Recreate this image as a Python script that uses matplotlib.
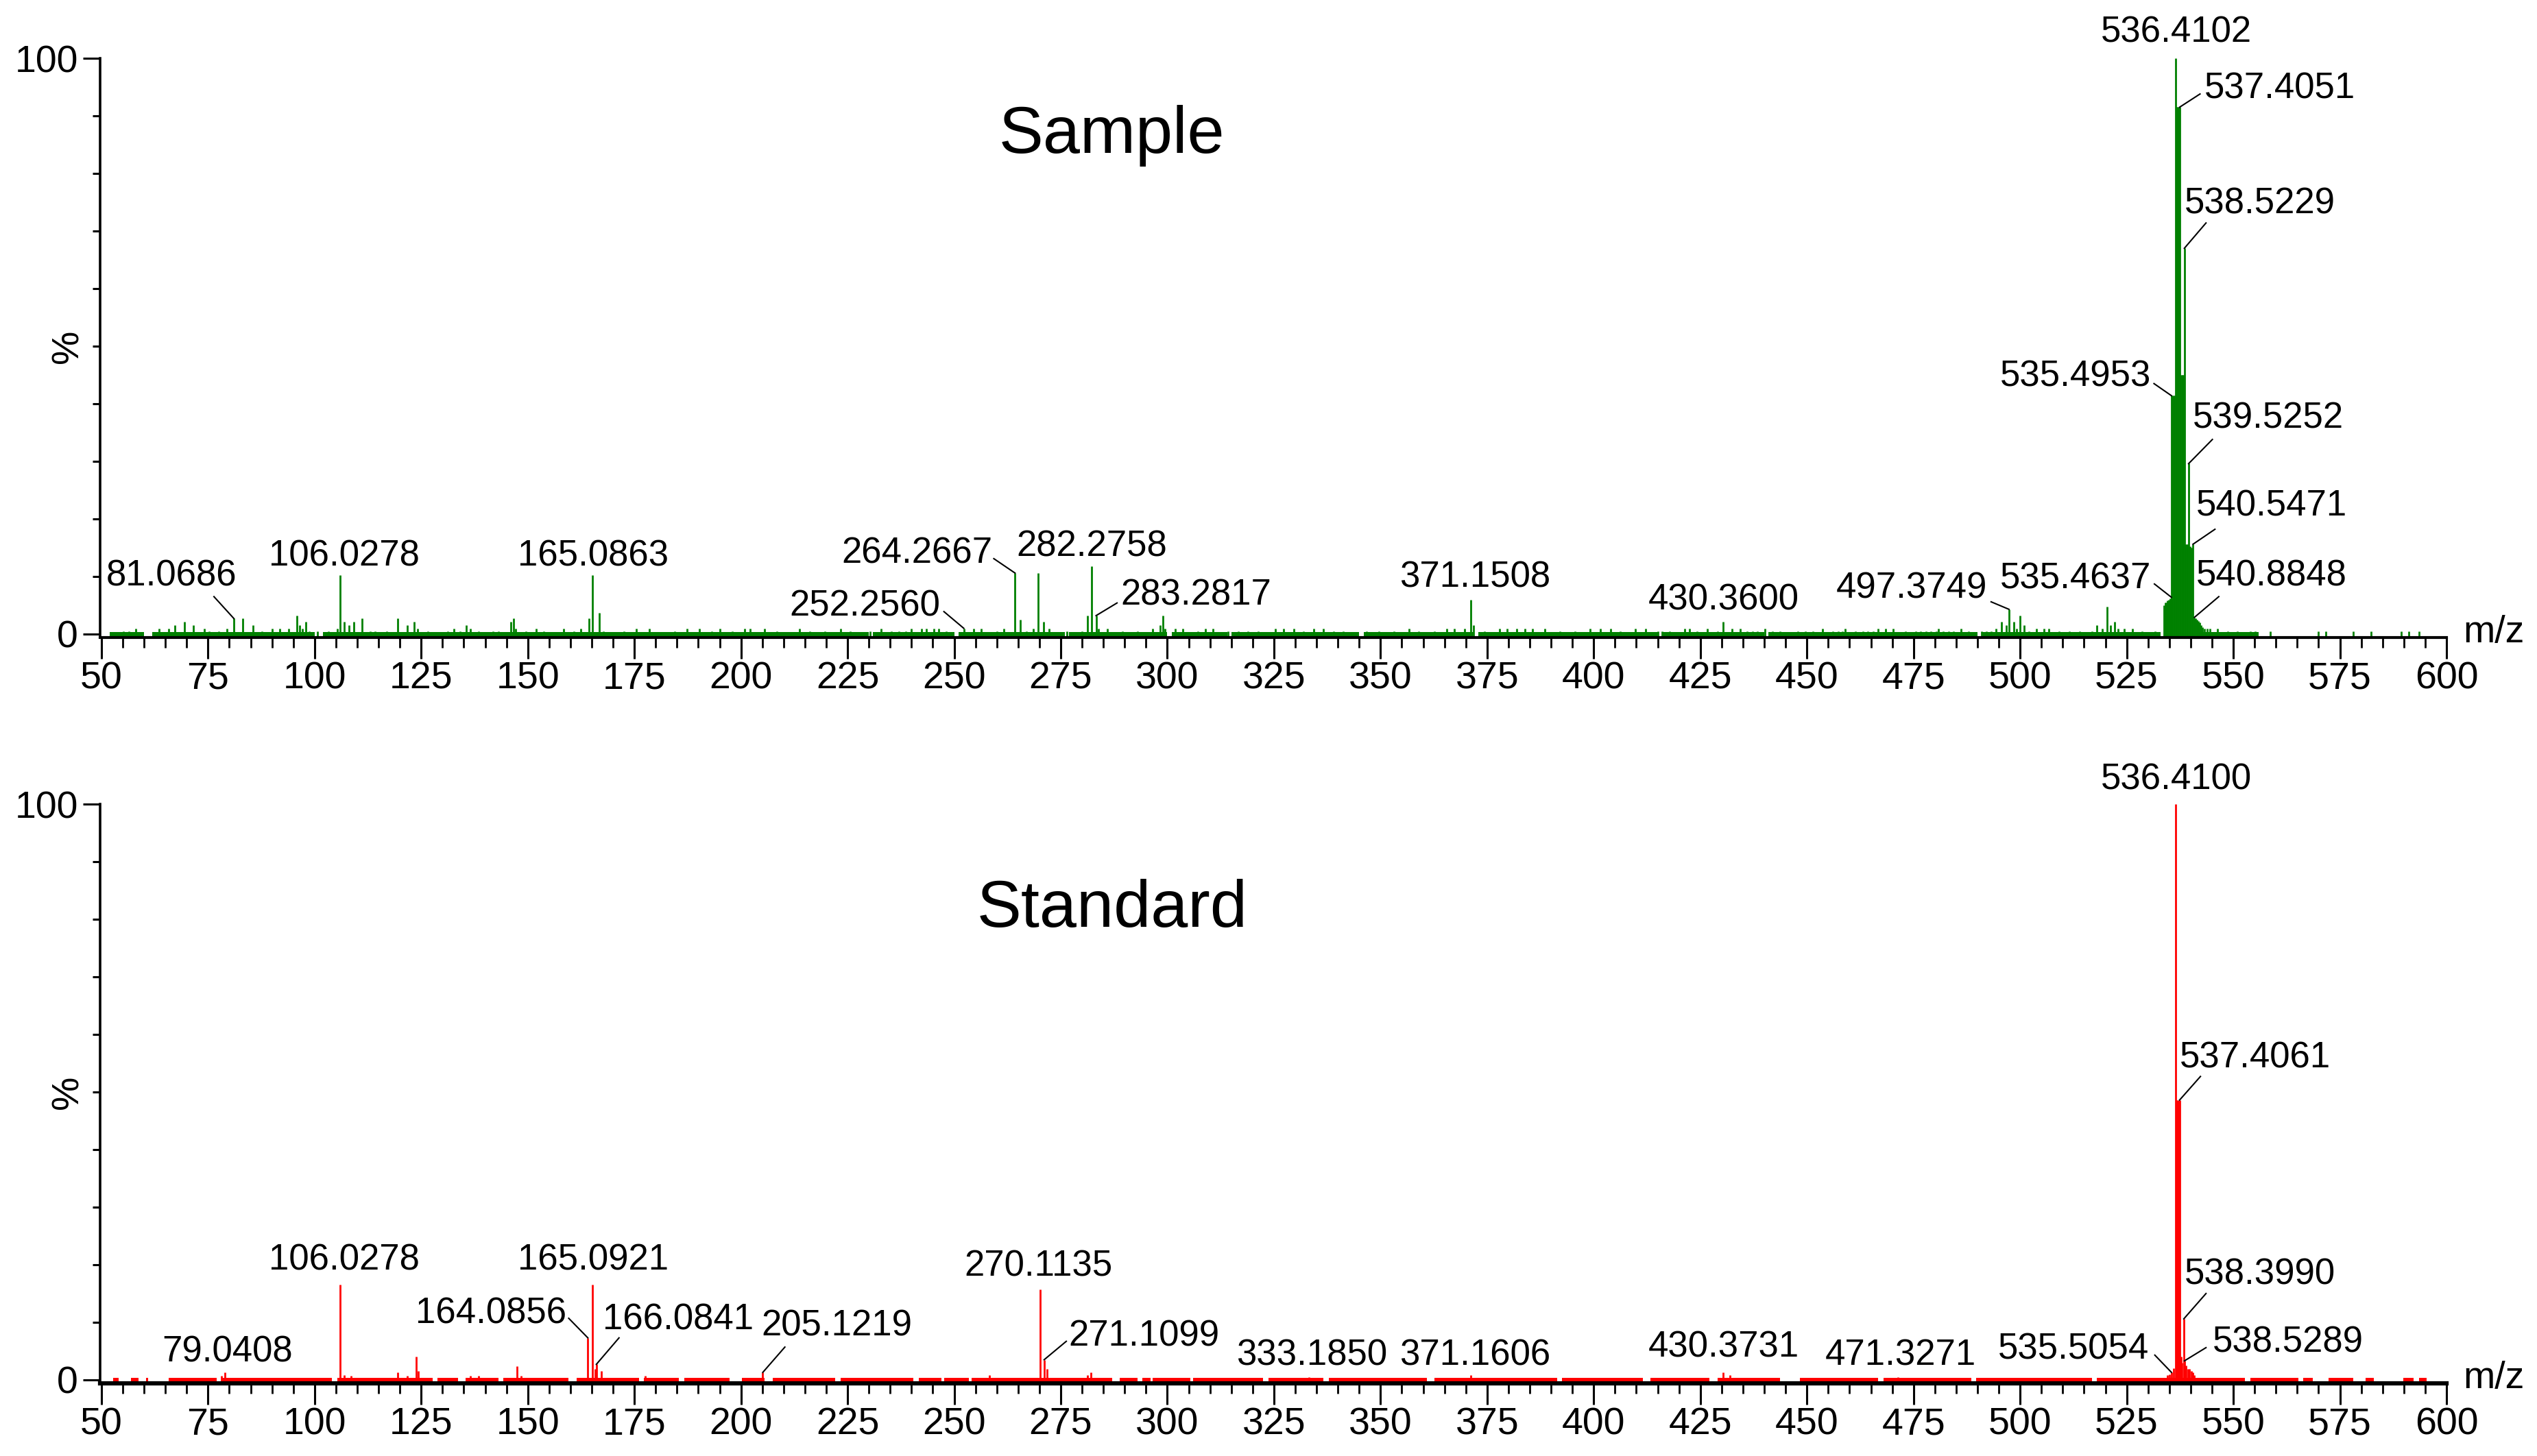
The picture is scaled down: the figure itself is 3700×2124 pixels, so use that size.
import matplotlib.pyplot as plt
from matplotlib.ticker import MultipleLocator
from matplotlib.transforms import blended_transform_factory

plt.rcParams['font.family'] = ['Liberation Sans', 'DejaVu Sans']

# ---- Sample spectrum (top, green) ----
sample_mz = [55.2, 56.5, 58.1, 63.5, 65.8, 67.2, 69.4, 71.5, 74.1, 75.2, 77.6, 79.4,
             81.0686, 83.2, 85.6, 87.6, 90.0, 91.8, 93.9, 95.9, 96.5, 97.1, 98.0, 98.8,
             100.6, 103.2, 105.3, 106.0278, 106.9, 108.0, 109.2, 111.2, 113.0, 114.2,
             116.9, 119.5, 121.8, 123.3, 124.2, 126.6, 131.3, 132.7, 134.2, 135.6, 136.6,
             138.4, 141.9, 143.1, 146.0, 146.6, 147.2, 149.6, 151.9, 153.7, 158.4, 160.8,
             162.5, 164.3, 165.0863, 166.7, 167.8, 172.6, 175.5, 178.5, 184.4, 187.3,
             190.3, 193.2, 195.0, 198.0, 200.9, 202.1, 205.6, 208.5, 213.8, 216.2, 219.7,
             223.3, 225.6, 230.3, 232.8, 235.2, 237.0, 238.7, 239.9, 242.3, 243.4, 245.2,
             246.4, 248.2, 252.2560, 254.6, 256.4, 260.0, 261.7, 264.2667, 265.5, 267.0,
             268.6, 269.7, 270.9, 272.3, 276.5, 280.0, 281.2, 282.2758, 283.2817, 283.9,
             285.9, 289.4, 293.0, 296.5, 298.3, 298.9, 299.5, 301.8, 303.6, 307.1, 308.9,
             310.7, 314.2, 316.6, 318.9, 321.3, 325.4, 327.2, 329.6, 331.9, 334.3, 336.6,
             339.0, 341.3, 346.7, 349.6, 353.1, 356.7, 359.0, 362.6, 365.5, 367.3, 369.7,
             371.1508, 371.8, 374.4, 377.9, 379.7, 382.0, 383.8, 385.6, 388.5, 392.1,
             395.6, 399.1, 401.5, 403.9, 406.2, 409.8, 412.1, 415.1, 416.0, 417.8, 421.3,
             422.5, 424.2, 426.6, 429.0, 430.3600, 432.5, 434.3, 436.0, 437.2, 438.4,
             440.2, 441.9, 443.7, 447.8, 449.6, 451.4, 453.7, 456.1, 457.3, 458.4, 459.0,
             461.4, 463.2, 464.3, 465.5, 466.7, 468.5, 470.2, 473.2, 475.5, 476.7, 477.9,
             479.1, 480.3, 480.9, 482.0, 483.2, 484.4, 486.2, 487.9, 490.9, 492.1, 493.2,
             494.4, 495.6, 496.8, 497.3749, 498.5, 499.1, 499.96, 500.9, 502.1, 503.9,
             505.6, 506.8, 509.2, 511.5, 513.9, 516.8, 518.0, 519.2, 520.4, 521.2, 522.1,
             523.0, 524.5, 526.3, 528.6, 531.6,
             533.7, 534.0, 534.3, 534.6, 534.9, 535.15, 535.4637, 535.4953, 535.75, 536.0,
             536.2, 536.4102, 536.6, 536.85, 537.1, 537.4051, 537.6, 537.85, 538.1, 538.3,
             538.5229, 538.75, 539.0, 539.25, 539.5252, 539.8, 540.05, 540.3, 540.5471,
             540.8848, 541.2, 541.5, 541.8, 542.1, 542.4, 542.8, 543.3, 543.9,
             544.5, 546.3, 548.7, 551.0, 554.0, 555.2, 558.7, 569.9, 571.7, 578.2, 582.3,
             589.4, 591.1, 593.5]
sample_int = [0.5, 0.5, 1.0, 1.0, 1.0, 1.5, 2.1, 1.5, 1.0, 0.5, 0.5, 1.0,
              2.7, 2.7, 1.5, 0.5, 1.0, 1.0, 1.0, 3.2, 1.5, 1.0, 2.1, 0.5,
              0.5, 0.5, 1.0, 10.2, 2.1, 1.5, 2.1, 2.7, 0.5, 0.5,
              0.5, 2.7, 1.5, 2.1, 1.0, 0.5, 0.5, 1.0, 0.5, 1.5, 1.0,
              0.5, 0.5, 0.5, 2.1, 2.7, 1.0, 0.5, 1.0, 0.5, 1.0, 0.5,
              1.0, 2.7, 10.2, 3.7, 0.5, 0.5, 1.0, 1.0, 0.5, 1.0,
              1.0, 0.5, 1.0, 0.5, 1.0, 1.0, 1.0, 0.5, 1.0, 0.5, 0.5,
              1.0, 0.5, 0.5, 1.0, 0.5, 0.5, 0.5, 1.0, 1.0, 1.0, 1.0,
              1.0, 0.5, 1.0, 1.0, 1.0, 0.5, 1.0, 10.6, 2.5, 0.5,
              1.0, 10.6, 2.1, 1.0, 0.5, 0.5, 3.2, 11.8, 3.2, 1.0,
              1.0, 0.5, 0.5, 1.0, 1.5, 3.2, 1.0, 1.0, 1.0, 0.5, 1.0,
              1.0, 0.5, 0.5, 0.5, 0.5, 1.0, 1.0, 1.0, 0.5, 1.0, 1.0,
              0.5, 0.5, 0.5, 0.5, 0.5, 1.0, 0.5, 0.5, 1.0, 1.0, 1.0,
              5.9, 1.5, 0.5, 1.0, 1.0, 1.0, 1.0, 1.0, 1.0, 0.5,
              0.5, 1.0, 1.0, 1.0, 0.5, 1.0, 1.0, 0.5, 0.5, 0.5, 1.0,
              1.0, 0.5, 1.0, 0.5, 2.1, 1.0, 1.0, 0.5, 0.5, 0.5,
              1.0, 0.5, 0.5, 0.5, 0.5, 0.5, 1.0, 0.5, 0.5, 0.5, 1.0,
              0.5, 0.5, 0.5, 0.5, 1.0, 1.0, 1.0, 0.5, 0.5, 0.5, 0.5,
              0.5, 0.5, 1.0, 0.5, 0.5, 0.5, 1.0, 0.5, 0.5, 0.5, 0.5,
              1.0, 2.1, 1.5, 4.3, 2.1, 1.0, 3.2, 1.5, 0.5, 1.0,
              1.0, 1.0, 0.5, 0.5, 0.5, 0.5, 1.5, 1.0, 4.8, 1.5, 2.1,
              1.0, 1.0, 1.0, 0.5, 0.5,
              5.0, 5.5, 5.5, 5.8, 6.0, 6.2, 6.4, 41.4, 41.4, 41.4,
              41.4, 100.0, 91.5, 91.5, 91.5, 91.5, 45.0, 45.0, 45.0, 45.0,
              67.0, 15.6, 15.6, 15.6, 29.6, 15.2, 15.0, 15.0, 15.6,
              2.9, 2.7, 2.5, 2.2, 2.0, 1.5, 1.2, 1.0, 1.0,
              1.0, 1.0, 0.5, 0.5, 0.5, 0.5, 0.5, 0.5, 0.5, 0.5, 0.5,
              0.5, 0.5, 0.5]
sample_grass = [(52, 60), (62, 100), (102, 230), (231, 250), (251, 276), (277, 300),
                (301, 314), (315, 345), (346, 372), (373, 415), (416, 440), (441, 490),
                (491, 533), (542, 556)]
sample_labelled = [81.0686, 106.0278, 165.0863, 252.2560, 264.2667, 282.2758, 283.2817,
                   371.1508, 430.3600, 497.3749, 535.4637, 535.4953, 536.4102, 537.4051,
                   538.5229, 539.5252, 540.5471, 540.8848]

# ---- Standard spectrum (bottom, red) ----
standard_mz = [78.2, 79.0408, 106.0278, 106.9, 108.5, 119.5, 121.8, 123.8, 124.3, 136.6,
               138.4, 147.4, 148.4, 164.0856, 165.0921, 165.8, 166.0841, 167.3, 177.6,
               205.1219, 258.3, 270.1135, 271.1099, 271.8, 281.2, 282.0, 333.1850,
               371.1606, 430.3731, 432.0, 471.3271,
               534.5, 535.0, 535.5054, 536.0, 536.4100, 536.6, 536.85, 537.1, 537.4061,
               537.7, 538.0, 538.3990, 538.5289, 538.9, 539.3, 539.7, 540.1, 540.5, 540.9]
standard_int = [0.75, 1.3, 16.6, 0.8, 0.75, 1.3, 0.75, 4.0, 1.5, 0.75,
                0.75, 2.4, 0.75, 7.3, 16.6, 1.9, 2.7, 1.5, 0.75,
                1.3, 0.8, 15.7, 3.5, 1.9, 0.8, 1.3, 0.5,
                0.8, 1.35, 0.8, 0.5,
                0.8, 1.0, 1.3, 2.0, 100.0, 48.6, 48.6, 48.6, 48.6,
                4.0, 3.0, 10.6, 3.3, 2.5, 1.9, 1.9, 1.5, 1.3, 0.8]
standard_grass = [(52.8, 54.0), (57.0, 58.7), (60.5, 61.0), (65.8, 77.0), (78.2, 104.1),
                  (105.3, 127.7), (128.9, 133.6), (135.4, 143.1), (144.2, 159.6),
                  (161.4, 176.1), (177.3, 185.5), (186.7, 197.3), (200.3, 205.6),
                  (207.4, 222.1), (223.3, 240.5), (241.7, 247.0), (247.6, 253.5),
                  (254.1, 287.1), (288.9, 293.0), (294.2, 296.0), (296.5, 305.4),
                  (306.0, 322.5), (323.7, 336.6), (337.8, 360.8), (362.6, 391.5),
                  (392.6, 411.5), (413.3, 427.2), (429.0, 443.7), (448.4, 466.7),
                  (467.9, 488.5), (489.7, 516.8), (518.0, 552.8), (554.0, 565.2),
                  (566.4, 568.7), (572.3, 578.2), (581.1, 582.9), (589.9, 592.3),
                  (593.5, 595.3)]
standard_labelled = [79.0408, 106.0278, 164.0856, 165.0921, 166.0841, 205.1219, 270.1135,
                     271.1099, 333.1850, 371.1606, 430.3731, 471.3271, 535.5054,
                     536.4100, 537.4061, 538.3990, 538.5289]

xticks = list(range(50, 601, 25))

# label placement: (text x, text y, ha, leader end or None)
sample_label_pos = [(81.8, 10.1, 'right', (76.4, 6.5)), (106.9, 13.5, 'center', None),
                    (165.3, 13.5, 'center', None), (246.8, 4.8, 'right', (247.6, 3.9)),
                    (259.0, 14.0, 'right', (259.3, 13.1)), (282.2, 15.2, 'center', None),
                    (289.0, 6.7, 'left', (288.2, 5.4)), (372.1, 9.8, 'center', None),
                    (430.5, 5.9, 'center', None), (492.3, 7.9, 'right', (493.2, 5.6)),
                    (530.8, 9.6, 'right', (531.5, 8.7)), (530.8, 44.7, 'right', (531.4, 43.5)),
                    (536.7, 104.5, 'center', None), (543.2, 94.7, 'left', (542.2, 93.8)),
                    (538.6, 74.7, 'left', (543.6, 71.4)), (540.5, 37.4, 'left', (545.1, 33.8)),
                    (541.3, 22.2, 'left', (545.7, 18.2)), (541.3, 10.1, 'left', (546.6, 6.5))]
standard_label_pos = [(79.6, 4.8, 'center', None), (106.9, 20.8, 'center', None),
                      (159.0, 11.5, 'right', (159.6, 10.7)), (165.3, 20.8, 'center', None),
                      (167.6, 10.4, 'left', (171.4, 7.3)), (204.8, 9.3, 'left', (210.3, 5.7)),
                      (269.7, 19.7, 'center', None), (276.9, 7.6, 'left', (276.3, 6.7)),
                      (333.8, 4.2, 'center', None), (372.1, 4.2, 'center', None),
                      (430.5, 5.6, 'center', None), (471.9, 4.2, 'center', None),
                      (530.3, 5.3, 'right', (531.6, 4.3)), (536.7, 104.2, 'center', None),
                      (537.5, 55.9, 'left', (542.3, 52.7)), (538.6, 18.3, 'left', (543.6, 15.0)),
                      (545.1, 6.5, 'left', (543.6, 5.6))]

YMIN = -0.6
fig = plt.figure(figsize=(37, 21.24), dpi=100)
ax_top = fig.add_axes([0.03946, 0.56215, 0.92486, 0.39783])
ax_bot = fig.add_axes([0.03946, 0.04991, 0.92486, 0.39783])


def draw_panel(ax, mz, inten, grass, labelled, label_pos, color, title, title_y, base_lw):
    ax.broken_barh([(s, e - s) for s, e in grass], (YMIN, 0.35 - YMIN), facecolors=color)
    ax.vlines(mz, YMIN, inten, colors=color, linewidth=2.0)
    for m, (tx, ty, ha, lead) in zip(labelled, label_pos):
        h = inten[mz.index(m)]
        ax.text(tx, ty, f"{m:.4f}", fontsize=38, ha=ha, va='center', clip_on=False)
        if lead is not None:
            ax.plot([m, lead[0]], [h, lead[1]], color='black', linewidth=1.5)
    ax.text(287, title_y, title, fontsize=70, ha='center', va='center')

    ax.set_xlim(49.7, 600)
    ax.set_ylim(YMIN, 100)
    for s in ['top', 'right']:
        ax.spines[s].set_visible(False)
    ax.spines['left'].set_linewidth(2.6)
    ax.spines['bottom'].set_linewidth(base_lw)
    ax.set_xticks(xticks)
    ax.set_xticklabels([str(t) for t in xticks])
    ax.xaxis.set_minor_locator(MultipleLocator(5))
    ax.set_yticks([0, 100])
    ax.set_yticklabels(['0', '100'])
    ax.yaxis.set_minor_locator(MultipleLocator(10))
    ax.tick_params(axis='x', which='major', length=22, width=2.2, labelsize=40, pad=3)
    ax.tick_params(axis='x', which='minor', length=11, width=2.0)
    ax.tick_params(axis='y', which='major', length=18, width=2.2, labelsize=40, pad=5)
    ax.tick_params(axis='y', which='minor', length=8, width=2.2)
    trans = blended_transform_factory(ax.transAxes, ax.transData)
    ax.text(-0.0137, 50, '%', fontsize=40, rotation=90, ha='center', va='center',
            transform=trans)
    ax.text(1.007, 0.2, 'm/z', fontsize=40, ha='left', va='center', transform=trans,
            clip_on=False)


draw_panel(ax_top, sample_mz, sample_int, sample_grass, sample_labelled,
           sample_label_pos, '#008000', 'Sample', 86.5, 3.0)
draw_panel(ax_bot, standard_mz, standard_int, standard_grass, standard_labelled,
           standard_label_pos, '#ff0000', 'Standard', 81.7, 4.5)

fig.savefig('out.png', dpi=100)
